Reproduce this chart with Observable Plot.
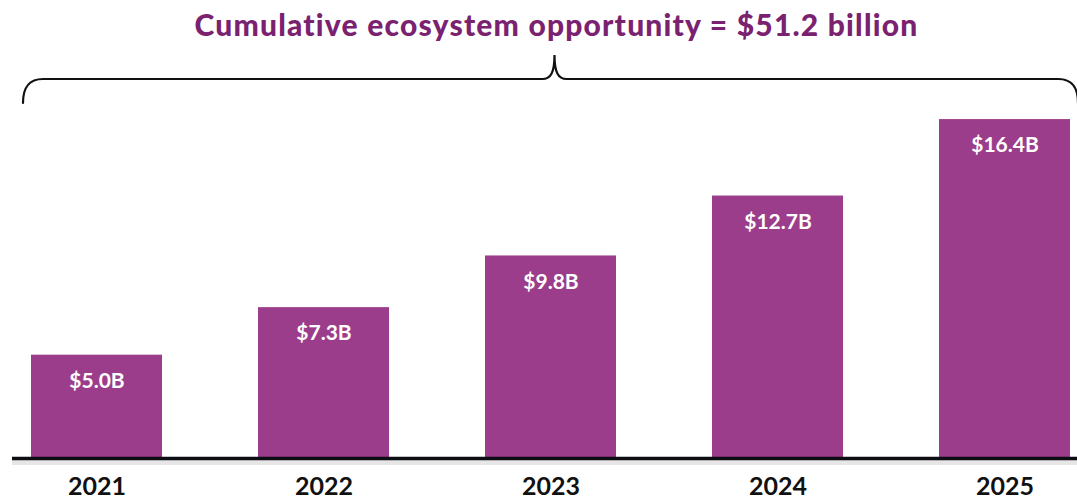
<!DOCTYPE html>
<html>
<head>
<meta charset="utf-8">
<script src="https://cdn.jsdelivr.net/npm/d3@7"></script>
<script src="https://cdn.jsdelivr.net/npm/@observablehq/plot@0.6"></script>
<style>
  html, body { margin: 0; padding: 0; background: #fff; }
  #wrap { width: 1077px; height: 500px; overflow: hidden; }
  #title {
    height: 48px; box-sizing: border-box; padding-top: 8px; padding-left: 36px;
    text-align: center; font-family: Lato, "Open Sans", sans-serif; font-weight: 900;
    font-size: 30px; line-height: 32px; letter-spacing: 1.2px; color: #7a2270; white-space: nowrap;
  }
</style>
</head>
<body>
<div id="wrap">
  <div id="title">Cumulative ecosystem opportunity = $51.2 billion</div>
  <div id="chart"></div>
</div>
<script>
const years = ["2021", "2022", "2023", "2024", "2025"];
const values = [5.0, 7.3, 9.8, 12.7, 16.4];
const valueLabels = ["$5.0B", "$7.3B", "$9.8B", "$12.7B", "$16.4B"];

const data = years.map((y, i) => ({year: y, value: values[i], label: valueLabels[i]}));

const barColor = "#9c3d8b";

// curly brace spanning all bars
function brace(index, scales, values, dims) {
  const x = scales.x;
  const L = x(years[0]) - 8;
  const R = x(years[years.length - 1]) + x.bandwidth() + 8;
  const M = (L + R) / 2 + 4;
  const yH = 31, yTop = 7, yEnd = 55;
  const d = `M${L},${yEnd} C${L},${yH + 8} ${L + 6},${yH} ${L + 20},${yH}` +
            ` H${M - 12} C${M - 4},${yH} ${M},${yH - 6} ${M},${yTop}` +
            ` C${M},${yH - 6} ${M + 4},${yH} ${M + 12},${yH}` +
            ` H${R - 20} C${R - 6},${yH} ${R},${yH + 8} ${R},${yEnd}`;
  const g = d3.create("svg:path")
    .attr("d", d).attr("fill", "none").attr("stroke", "#111")
    .attr("stroke-width", 2.2).attr("stroke-linecap", "round");
  return g.node();
}

const chart = Plot.plot({
  width: 1077,
  height: 452,
  marginLeft: 29,
  marginRight: 4,
  marginTop: 38,
  marginBottom: 42,
  style: {fontFamily: "Lato, 'Open Sans', sans-serif", background: "transparent"},
  x: {domain: years, paddingInner: 0.421, paddingOuter: 0, label: null},
  y: {domain: [0, 18], axis: null},
  marks: [
    Plot.barY(data, {x: "year", y: "value", fill: barColor}),
    Plot.ruleY([0], {stroke: "#e6e6e6", strokeWidth: 5, dy: 4, insetLeft: -17, insetRight: -4}),
    Plot.ruleY([0], {stroke: "#0d0d14", strokeWidth: 3.5, insetLeft: -17, insetRight: -4}),
    Plot.text(data, {x: "year", y: "value", text: "label", dy: 26, fill: "white",
      fontSize: 21, fontWeight: 700, letterSpacing: 0.8}),
    Plot.axisX({tickSize: 0, tickPadding: 19, fontSize: 25, fontWeight: 700, fill: "#111", label: null}),
    brace
  ]
});
document.getElementById("chart").appendChild(chart);
</script>
</body>
</html>
